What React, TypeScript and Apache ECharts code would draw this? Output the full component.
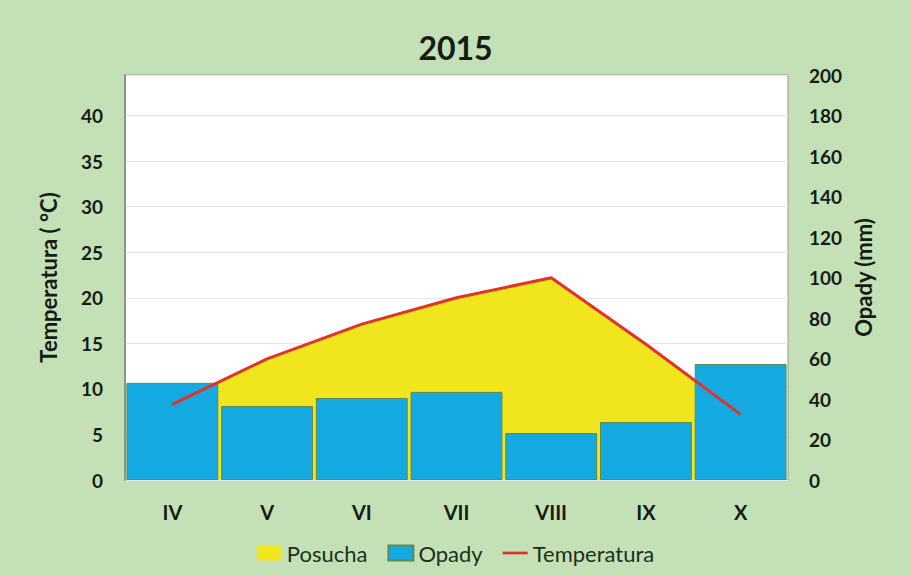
import React, { useEffect, useRef } from "react";
import * as echarts from "echarts";

const months = ["IV", "V", "VI", "VII", "VIII", "IX", "X"];
const opady = [48, 36.5, 40.5, 43.5, 23.2, 28.6, 57.3];
const temperatura = [8.3, 13.3, 17.1, 20.0, 22.2, 14.9, 7.2];
const leftMax = 200 / 4.5;
const rightMax = 200;

const FONT = "Lato, 'Open Sans', sans-serif";
const TXT = "#141c14";

export default function App() {
  const ref = useRef<HTMLDivElement>(null);
  useEffect(() => {
    if (!ref.current) return;
    const chart = echarts.init(ref.current, null, { renderer: "svg" });
    chart.setOption({
      animation: false,
      backgroundColor: "#c3e0b6",
      textStyle: { fontFamily: FONT },
      title: {
        text: "2015",
        left: "center",
        top: 26,
        textStyle: { fontSize: 32, fontWeight: "bold", color: TXT, fontFamily: FONT },
      },
      legend: {
        top: 537,
        left: "center",
        itemWidth: 25,
        itemHeight: 15,
        itemGap: 20,
        textStyle: { fontSize: 22, color: "#1c301c", fontFamily: FONT },
        data: [
          { name: "Posucha", icon: "rect" },
          { name: "Opady", icon: "rect" },
          { name: "Temperatura", icon: "path://M0,0M28,15M0,6L28,6L28,9L0,9Z" },
        ],
      },
      grid: {
        left: 125,
        right: 123,
        top: 75,
        bottom: 96,
        show: true,
        backgroundColor: "#ffffff",
        borderColor: "#949c94",
        borderWidth: 1,
      },
      xAxis: {
        type: "category",
        data: months,
        axisTick: { show: false },
        axisLine: { show: false },
        axisLabel: { fontSize: 20, fontWeight: "bold", color: TXT, margin: 22, fontFamily: FONT },
      },
      yAxis: [
        {
          type: "value",
          min: 0,
          max: leftMax,
          interval: 5,
          name: "Temperatura ( °C)",
          nameLocation: "middle",
          nameGap: 66,
          nameTextStyle: { fontSize: 22, fontWeight: "bold", color: TXT, fontFamily: FONT },
          axisLine: { show: true, lineStyle: { color: "#8c948c", width: 2 } },
          axisTick: { show: false },
          axisLabel: { fontSize: 19, fontWeight: "bold", color: TXT, margin: 22, showMaxLabel: false, fontFamily: FONT },
          splitLine: { show: true, lineStyle: { color: "#e6e6e6", width: 1 } },
        },
        {
          type: "value",
          min: 0,
          max: rightMax,
          interval: 20,
          name: "Opady (mm)",
          nameLocation: "middle",
          nameGap: 62,
          nameTextStyle: { fontSize: 22, fontWeight: "bold", color: TXT, fontFamily: FONT },
          axisLine: { show: false },
          axisTick: { show: false },
          axisLabel: { fontSize: 19, fontWeight: "bold", color: TXT, margin: 21, fontFamily: FONT },
          splitLine: { show: false },
        },
      ],
      series: [
        {
          name: "Posucha",
          type: "line",
          yAxisIndex: 0,
          data: temperatura,
          symbol: "none",
          z: 1,
          itemStyle: { color: "#f1e51e" },
          lineStyle: { width: 0, color: "#f1e51e" },
          areaStyle: { color: "#f1e51e", opacity: 1 },
        },
        {
          name: "Opady",
          type: "bar",
          yAxisIndex: 1,
          data: opady,
          barCategoryGap: "3%",
          z: 2,
          itemStyle: { color: "#14a9e1", borderColor: "#5d8a55", borderWidth: 1 },
        },
        {
          name: "Temperatura",
          type: "line",
          yAxisIndex: 0,
          data: temperatura,
          symbol: "none",
          z: 3,
          itemStyle: { color: "#e2322a" },
          lineStyle: { width: 3, color: "#e2322a" },
        },
      ],
    });
    return () => chart.dispose();
  }, []);
  return (
    <div
      ref={ref}
      style={{ position: "fixed", left: 0, top: 0, width: 911, height: 576 }}
    />
  );
}
